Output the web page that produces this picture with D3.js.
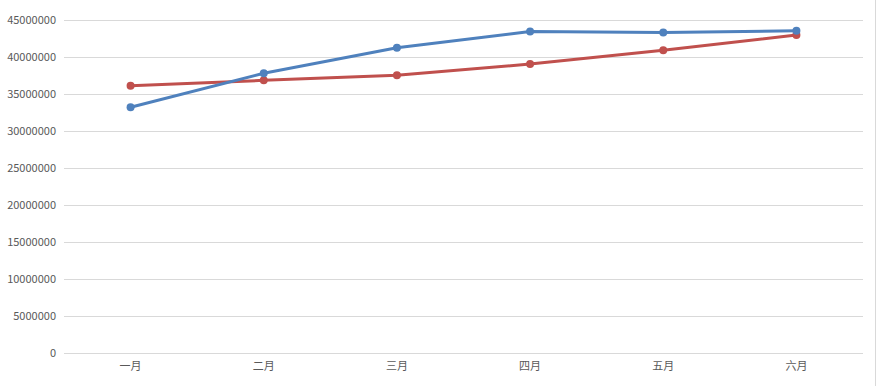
<!DOCTYPE html>
<html>
<head>
<meta charset="utf-8">
<script src="https://cdn.jsdelivr.net/npm/d3@7"></script>
<style>
  body { margin: 0; background: #fff; }
  svg text { font-family: "Noto Sans CJK SC", "Noto Sans", sans-serif; }
</style>
</head>
<body>
<svg id="chart" width="877" height="386"></svg>
<script>
const months = ['一月', '二月', '三月', '四月', '五月', '六月'];
const seriesBlue = [33200000, 37800000, 41250000, 43450000, 43300000, 43550000];
const seriesRed = [36100000, 36850000, 37520000, 39050000, 40900000, 42970000];
const yTicks = [0, 5000000, 10000000, 15000000, 20000000, 25000000, 30000000, 35000000, 40000000, 45000000];

const svg = d3.select('#chart');
const margin = { top: 20, right: 14, bottom: 33, left: 64 };
const width = 877 - margin.left - margin.right;
const height = 386 - margin.top - margin.bottom;

// right border of the chart frame
svg.append('line')
  .attr('x1', 875.5).attr('x2', 875.5)
  .attr('y1', 0).attr('y2', 386)
  .attr('stroke', '#d9d9d9');

const g = svg.append('g').attr('transform', `translate(${margin.left},${margin.top})`);

const x = d3.scaleBand().domain(months).range([0, width]);
const y = d3.scaleLinear().domain([0, 45000000]).range([height, 0]);

// gridlines
g.append('g')
  .selectAll('line')
  .data(yTicks)
  .join('line')
  .attr('x1', 0).attr('x2', width)
  .attr('y1', d => Math.round(y(d)) + 0.5)
  .attr('y2', d => Math.round(y(d)) + 0.5)
  .attr('stroke', '#d9d9d9')
  .attr('stroke-width', 1);

// y axis labels
const yAxis = g.append('g')
  .call(d3.axisLeft(y).tickValues(yTicks).tickFormat(d3.format('d')).tickSize(0).tickPadding(8));
yAxis.select('.domain').remove();
yAxis.selectAll('text').attr('fill', '#595959').attr('font-size', 11);

// x axis labels
const xAxis = g.append('g')
  .attr('transform', `translate(0,${height})`)
  .call(d3.axisBottom(x).tickSize(0).tickPadding(9));
xAxis.select('.domain').remove();
xAxis.selectAll('text').attr('fill', '#595959').attr('font-size', 11);

const cx = d => x(d) + x.bandwidth() / 2;
const line = d3.line()
  .x((d, i) => cx(months[i]))
  .y(d => y(d));

function drawSeries(values, color) {
  g.append('path')
    .datum(values)
    .attr('fill', 'none')
    .attr('stroke', color)
    .attr('stroke-width', 3)
    .attr('stroke-linejoin', 'round')
    .attr('d', line);
  g.append('g')
    .selectAll('circle')
    .data(values)
    .join('circle')
    .attr('cx', (d, i) => cx(months[i]))
    .attr('cy', d => y(d))
    .attr('r', 4)
    .attr('fill', color);
}

drawSeries(seriesRed, '#c0504d');
drawSeries(seriesBlue, '#4f81bd');
</script>
</body>
</html>
